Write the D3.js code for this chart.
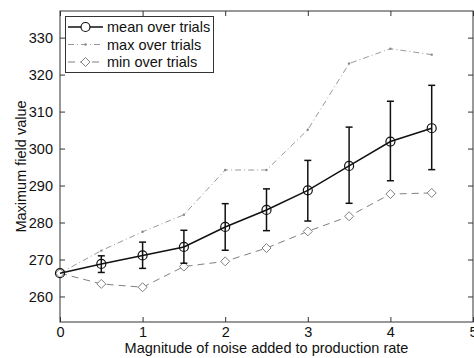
<!DOCTYPE html>
<html>
<head>
<meta charset="utf-8">
<script src="https://cdn.jsdelivr.net/npm/d3@7"></script>
<style>
body { margin: 0; background: #fff; }
svg { display: block; font-family: "Liberation Sans", Arial, Helvetica, sans-serif; }
</style>
</head>
<body>
<svg id="chart" width="474" height="358"></svg>
<script>
const xValues = [0, 0.5, 1, 1.5, 2, 2.5, 3, 3.5, 4, 4.5];
const meanValues = [266.3, 268.8, 271.1, 273.4, 278.8, 283.4, 288.7, 295.3, 301.9, 305.5];
const errUpper = [266.3, 271.0, 274.7, 277.9, 285.1, 289.1, 296.8, 305.8, 312.8, 317.1];
const errLower = [266.3, 266.5, 267.6, 269.0, 272.5, 277.8, 280.4, 285.2, 291.3, 294.3];
const maxValues = [266.3, 272.4, 277.5, 282.1, 294.2, 294.2, 305.1, 323.0, 327.0, 325.4];
const minValues = [266.3, 263.4, 262.5, 268.1, 269.5, 273.1, 277.6, 281.7, 287.7, 288.0];
const xTicks = [0, 1, 2, 3, 4, 5];
const yTicks = [260, 270, 280, 290, 300, 310, 320, 330];
const seriesNames = ["mean over trials", "max over trials", "min over trials"];
const xLabel = "Magnitude of noise added to production rate";
const yLabel = "Maximum field value";

const svg = d3.select("#chart");
const L = 60, R = 473, T = 11, B = 322;
const FS = 14.5;
const x = d3.scaleLinear().domain([0, 5]).range([L, R]);
const y = d3.scaleLinear().domain([253.1, 337.2]).range([B, T]);
const axisColor = "#333";
const tickLen = 5;

// axes box
svg.append("rect").attr("x", L).attr("y", T).attr("width", R - L).attr("height", B - T)
  .attr("fill", "none").attr("stroke", axisColor).attr("stroke-width", 1);

const gx = svg.append("g").attr("transform", `translate(0,${B})`)
  .call(d3.axisBottom(x).tickValues(xTicks).tickSize(-tickLen).tickPadding(5).tickFormat(d3.format("d")));
const gxt = svg.append("g").attr("transform", `translate(0,${T})`)
  .call(d3.axisTop(x).tickValues(xTicks).tickSize(-tickLen).tickFormat(""));
const gy = svg.append("g").attr("transform", `translate(${L},0)`)
  .call(d3.axisLeft(y).tickValues(yTicks).tickSize(-tickLen).tickPadding(7).tickFormat(d3.format("d")));
const gyr = svg.append("g").attr("transform", `translate(${R},0)`)
  .call(d3.axisRight(y).tickValues(yTicks).tickSize(-tickLen).tickFormat(""));
[gx, gxt, gy, gyr].forEach(g => {
  g.select(".domain").remove();
  g.selectAll(".tick line").attr("stroke", axisColor);
  g.selectAll("text").attr("font-size", FS).attr("fill", "#111")
    .attr("font-family", "'Liberation Sans', Arial, sans-serif");
});

// axis labels
svg.append("text").attr("x", 266.5).attr("y", 353).attr("text-anchor", "middle")
  .attr("font-size", FS).attr("fill", "#111").text(xLabel);
svg.append("text").attr("transform", `translate(26,${(T + B) / 2}) rotate(-90)`)
  .attr("text-anchor", "middle").attr("font-size", FS).attr("fill", "#111").text(yLabel);

const idx = d3.range(xValues.length);
const line = vals => d3.line().x(i => x(xValues[i])).y(i => y(vals[i]))(idx);

// max series
svg.append("path").attr("d", line(maxValues)).attr("fill", "none")
  .attr("stroke", "#999").attr("stroke-width", 1).attr("stroke-dasharray", "6,3,1,3");
svg.selectAll(".maxdot").data(idx).enter().append("circle")
  .attr("cx", i => x(xValues[i])).attr("cy", i => y(maxValues[i])).attr("r", 1.2).attr("fill", "#888");

// min series
svg.append("path").attr("d", line(minValues)).attr("fill", "none")
  .attr("stroke", "#808080").attr("stroke-width", 1).attr("stroke-dasharray", "7,5");
const diamond = (cx, cy, s) => `M${cx},${cy - s}L${cx + s},${cy}L${cx},${cy + s}L${cx - s},${cy}Z`;
svg.selectAll(".mind").data(idx).enter().append("path")
  .attr("d", i => diamond(x(xValues[i]), y(minValues[i]), 4.5))
  .attr("fill", "#fff").attr("stroke", "#808080").attr("stroke-width", 1);

// error bars
const cap = 3.5;
const eb = svg.append("g").attr("stroke", "#111").attr("stroke-width", 1.5);
idx.slice(1).forEach(i => {
  const cx = x(xValues[i]);
  eb.append("line").attr("x1", cx).attr("x2", cx).attr("y1", y(errUpper[i])).attr("y2", y(errLower[i]));
  eb.append("line").attr("x1", cx - cap).attr("x2", cx + cap).attr("y1", y(errUpper[i])).attr("y2", y(errUpper[i]));
  eb.append("line").attr("x1", cx - cap).attr("x2", cx + cap).attr("y1", y(errLower[i])).attr("y2", y(errLower[i]));
});

// mean series
svg.append("path").attr("d", line(meanValues)).attr("fill", "none")
  .attr("stroke", "#111").attr("stroke-width", 1.5);
svg.selectAll(".meanc").data(idx).enter().append("circle")
  .attr("cx", i => x(xValues[i])).attr("cy", i => y(meanValues[i])).attr("r", 4.5)
  .attr("fill", "none").attr("stroke", "#111").attr("stroke-width", 1.2);

// legend
const lg = svg.append("g");
lg.append("rect").attr("x", 65.5).attr("y", 16.5).attr("width", 148).attr("height", 56)
  .attr("fill", "#fff").attr("stroke", axisColor).attr("stroke-width", 1);
const ly = [27, 44.5, 62];
const lx1 = 68, lx2 = 103, lxc = 85.5;
// mean
lg.append("line").attr("x1", lx1).attr("x2", lx2).attr("y1", ly[0]).attr("y2", ly[0])
  .attr("stroke", "#111").attr("stroke-width", 1.5);
lg.append("circle").attr("cx", lxc).attr("cy", ly[0]).attr("r", 4.5).attr("fill", "#fff")
  .attr("stroke", "#111").attr("stroke-width", 1.2);
// max
lg.append("line").attr("x1", lx1).attr("x2", lx2).attr("y1", ly[1]).attr("y2", ly[1])
  .attr("stroke", "#999").attr("stroke-width", 1).attr("stroke-dasharray", "6,3,1,3");
lg.append("circle").attr("cx", lxc).attr("cy", ly[1]).attr("r", 1.2).attr("fill", "#888");
// min
lg.append("line").attr("x1", lx1).attr("x2", lx2).attr("y1", ly[2]).attr("y2", ly[2])
  .attr("stroke", "#808080").attr("stroke-width", 1).attr("stroke-dasharray", "7,5");
lg.append("path").attr("d", diamond(lxc, ly[2], 4.5)).attr("fill", "#fff")
  .attr("stroke", "#808080").attr("stroke-width", 1);
seriesNames.forEach((n, k) => {
  lg.append("text").attr("x", 107).attr("y", ly[k] + 5).attr("font-size", FS)
    .attr("fill", "#111").text(n);
});
</script>
</body>
</html>
